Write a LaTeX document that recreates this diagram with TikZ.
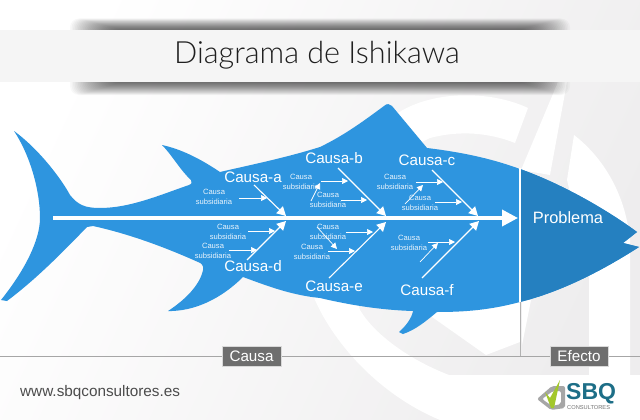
\documentclass[tikz,border=0pt]{standalone}
\usepackage{fontspec}
\setmainfont{Liberation Sans}
\newfontfamily\lightf{Lato Light}
\usetikzlibrary{arrows.meta}
\definecolor{fishblue}{HTML}{2E95DF}
\definecolor{headblue}{HTML}{2580C0}
\definecolor{wmgray}{HTML}{EEEDEE}
\definecolor{labelgray}{HTML}{6E6E6E}
\definecolor{sbqteal}{HTML}{1D6E87}
\definecolor{sbqgreen}{HTML}{A3C72B}
\tikzset{
 bone/.style={white,line width=1.1pt,-{Triangle[length=9pt,width=9.5pt]}},
 spine/.style={white,line width=3.6pt,-{Triangle[length=16pt,width=16pt]}},
 subarrow/.style={white,line width=.7pt,-{Triangle[length=6pt,width=6pt]}},
 causa/.style={text=white,font=\fontsize{15.2}{16}\selectfont,inner sep=0pt},
 subtxt/.style={text=white!90!fishblue,font=\fontsize{7.6}{9.3}\selectfont,align=center,inner sep=0pt},
 tagbox/.style={fill=labelgray,draw=black!15,line width=.4pt,text=white,font=\fontsize{15.2}{15}\selectfont,inner sep=0pt,minimum height=20pt},
}
\begin{document}
\begin{tikzpicture}[x=1pt,y=-1pt]
\useasboundingbox (0,0) rectangle (640,420);
% background
\shade[left color=white,middle color=wmgray,right color=wmgray,shading angle=65] (0,0) rectangle (640,420);
% watermark (white parts)
\fill[white] (528,108) .. controls (490,90) and (430,90) .. (395,115) .. controls (320,170) and (290,240) .. (315,300) .. controls (335,345) and (380,395) .. (440,420) -- (640,420) -- (640,375) -- (449,375) .. controls (410,360) and (375,335) .. (360,310) .. controls (340,250) and (360,170) .. (430,138) .. controls (460,130) and (490,133) .. (515,143) -- cycle;
\fill[white] (425,312) -- (486,355) -- (520,342) -- (520,300) -- cycle;
\fill[white] (558,82) -- (567,82) -- (550,175) -- (521,170) -- cycle;
\fill[white] (522,345) -- (522,300) -- (531,300) -- cycle;
\fill[white] (574,135) .. controls (600,155) and (625,190) .. (630,240) -- (630,375) -- (589,375) -- (589,270) -- (567,180) -- cycle;
% title band shadow
\foreach \i in {0,...,25}{
  \fill[black,opacity=.028,rounded corners=9pt] (70+1.6*\i,18.5+.42*\i) rectangle (570-1.6*\i,95-.48*\i);
}
\fill[black!4] (0,30) rectangle (640,82.5);
\node[font=\lightf\fontsize{30.6}{31}\selectfont,text=black!88,inner sep=0pt] (title) at (317,55) {Diagrama de Ishikawa};
% fish
\def\fishpath{(14,131) .. controls (40,150) and (62,180) .. (70,195)
 .. controls (78,205) and (85,208) .. (100,208)
 .. controls (130,208) and (160,195) .. (189,185)
 .. controls (192,184) and (192,182) .. (191,180)
 .. controls (180,170) and (172,155) .. (162,145)
 .. controls (185,150) and (205,162) .. (220,172)
 .. controls (250,165) and (285,158) .. (320,147)
 .. controls (345,135) and (365,120) .. (384,106)
 .. controls (387,103) and (390,104) .. (392,106)
 -- (427,148)
 .. controls (460,152) and (490,158) .. (520,169)
 .. controls (565,185) and (610,212) .. (637,232)
 -- (623,243) -- (639,247)
 .. controls (600,272) and (560,292) .. (520,302)
 .. controls (490,310) and (465,312) .. (437,312)
 .. controls (425,322) and (415,330) .. (403,334)
 -- (399,332)
 .. controls (405,327) and (412,318) .. (413,311)
 .. controls (380,310) and (350,305) .. (320,298)
 .. controls (290,295) and (265,285) .. (243,277)
 .. controls (225,295) and (200,310) .. (172,311)
 -- (168,311)
 .. controls (185,300) and (200,285) .. (203,270)
 .. controls (204,265) and (201,263) .. (198,262)
 .. controls (160,245) and (125,233) .. (93,226)
 -- (87,227)
 .. controls (60,255) and (35,280) .. (7,301)
 -- (1,300)
 .. controls (25,270) and (40,240) .. (40,218)
 .. controls (40,190) and (30,155) .. (14,131) -- cycle}
\fill[fishblue] \fishpath;
\begin{scope}
 \clip \fishpath;
 \fill[headblue] (520,100) rectangle (640,340);
\end{scope}
% axis lines
\coordinate (axisL) at (0,356); \coordinate (axisR) at (640,356);
\draw[black!35,line width=.8pt] (axisL) -- (axisR);
\coordinate (vtop) at (520,168); \coordinate (vmid) at (520,302); \coordinate (vbot) at (520,356);
\draw[white,line width=1.5pt] (vtop) -- (vmid);
\draw[black!30,line width=1pt] (vmid) -- (vbot);
\node[tagbox,minimum width=59pt] (tagC) at (251.5,356) {Causa};
\node[tagbox,minimum width=58pt] (tagE) at (579,356) {Efecto};
% spine
\coordinate (tailend) at (53,218); \coordinate (spinetip) at (518,218);
\draw[spine] (tailend) -- (spinetip);
\node[text=white,font=\fontsize{16.4}{17}\selectfont,inner sep=0pt] (prob) at (568,218) {Problema};
% main causes
\node[causa] (ca) at (253,177) {Causa-a};
\node[causa] (cb) at (334,158) {Causa-b};
\node[causa] (cc) at (427,160) {Causa-c};
\node[causa] (cd) at (253,266) {Causa-d};
\node[causa] (ce) at (334,286) {Causa-e};
\node[causa] (cf) at (427,290) {Causa-f};
\coordinate (ja) at (286,216); \coordinate (jb) at (386,216); \coordinate (jc) at (478,216);
\coordinate (jd) at (286,221); \coordinate (je) at (386,222); \coordinate (jf) at (479,221);
\coordinate (sa) at (254,185); \coordinate (sb) at (338,168); \coordinate (sc) at (432,170);
\coordinate (sd) at (247,260); \coordinate (se) at (329,278); \coordinate (sf) at (422,278);
\draw[bone] (sa) -- (ja); \draw[bone] (sb) -- (jb); \draw[bone] (sc) -- (jc);
\draw[bone] (sd) -- (jd); \draw[bone] (se) -- (je); \draw[bone] (sf) -- (jf);
% subcauses
\node[subtxt] (ta) at (214,197) {Causa\\subsidiaria};
\node[subtxt] (tb1) at (301,182) {Causa\\subsidiaria};
\node[subtxt] (tb2) at (328,200) {Causa\\subsidiaria};
\node[subtxt] (tc1) at (395,182) {Causa\\subsidiaria};
\node[subtxt] (tc2) at (420,203) {Causa\\subsidiaria};
\node[subtxt] (td1) at (228,232) {Causa\\subsidiaria};
\node[subtxt] (td2) at (213,251) {Causa\\subsidiaria};
\node[subtxt] (te1) at (328,232) {Causa\\subsidiaria};
\node[subtxt] (te2) at (312,252) {Causa\\subsidiaria};
\node[subtxt] (tf) at (409,243) {Causa\\subsidiaria};
\foreach \x/\y/\u/\v/\n in {239/198/267/198/a,321/181/348/181/bi,341/200/367/200/bk,
  416/182/443/182/ci,435/202/462/202/ck,248/231/275/231/di,229/250/257/250/dk,
  346/232/373/232/ei,328/251/355/251/ek,428/242/455/242/fi}{
  \coordinate (p\n) at (\x,\y); \coordinate (q\n) at (\u,\v);
  \draw[subarrow] (p\n) -- (q\n);
}
\foreach \x/\y/\u/\v/\n in {311/201/320/183/bj,405/204/423/185/cj,317/227/337/249/ej,420/262/438/243/fj}{
  \coordinate (p\n) at (\x,\y); \coordinate (q\n) at (\u,\v);
  \draw[subarrow] (p\n) -- (q\n);
}
% footer
\node[anchor=west,text=black!70,font=\fontsize{15.3}{16}\selectfont,inner sep=0pt] (url) at (20,393) {www.sbqconsultores.es};
% logo
\fill[black!35,even odd rule,rounded corners=2pt] (552,386) -- (565,386) -- (565,408) -- (551,410) -- (537,399) -- cycle (553,391) -- (561,391) -- (561,404) -- (552,406) -- (542,399) -- cycle;
\fill[sbqgreen] (545,392) -- (550,398) -- (560,380) -- (554,408) -- (551,408) -- cycle;
\node[anchor=west,text=sbqteal,font=\bfseries\fontsize{23}{23}\selectfont,inner sep=0pt] (sbq) at (566,394) {SBQ};
\node[anchor=west,text=black!55,font=\fontsize{5.7}{6}\selectfont,inner sep=0pt] (cons) at (567,408) {CONSULTORES};
\end{tikzpicture}
\end{document}
